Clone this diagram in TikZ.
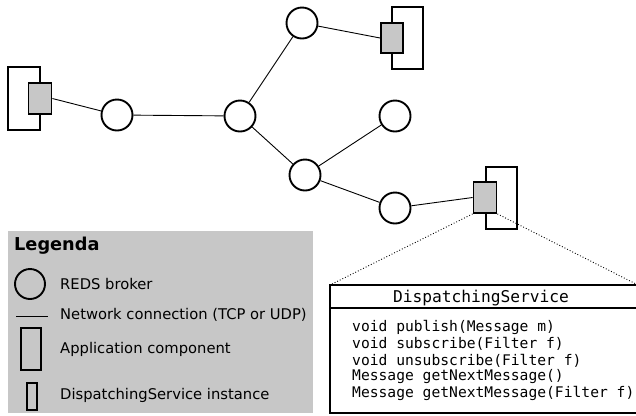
\documentclass[tikz,border=0pt]{standalone}
\usepackage{fontspec}
\setmainfont{DejaVu Sans}
\setmonofont{DejaVu Sans Mono}
\begin{document}
\begin{tikzpicture}[x=1bp,y=-1bp,
  broker/.style={circle,draw,line width=1.9bp,minimum size=31bp,inner sep=0pt,fill=white},
  conn/.style={line width=0.9bp},
  appcomp/.style={draw,line width=1.8bp,fill=white},
  dsinst/.style={draw,line width=1.8bp,fill=black!22},
  legtext/.style={anchor=west,inner sep=0pt,font=\fontsize{14.8}{16}\selectfont},
  codeline/.style={anchor=west,inner sep=0pt,font=\ttfamily\fontsize{14.7}{16}\selectfont}]
\useasboundingbox (0,0) rectangle (636,415);
% application components
\draw[appcomp] (8,67) rectangle (40,130);
\node[dsinst,minimum width=23bp,minimum height=31bp,inner sep=0pt] (dsL) at (40,98.5) {};
\draw[appcomp] (392,7) rectangle (423,69);
\node[dsinst,minimum width=22bp,minimum height=30bp,inner sep=0pt] (dsT) at (392,38) {};
\draw[appcomp] (486,167) rectangle (517,229);
\node[dsinst,minimum width=23bp,minimum height=31bp,inner sep=0pt] (dsB) at (485,197.5) {};
% brokers
\node[broker] (c1) at (117,115) {};
\node[broker] (c2) at (240,116) {};
\node[broker] (c3) at (302,23) {};
\node[broker] (c4) at (395,116) {};
\node[broker] (c5) at (305,175) {};
\node[broker] (c6) at (395,208) {};
% connections
\draw[conn] (dsL.east) -- (c1);
\draw[conn] (c1) -- (c2);
\draw[conn] (c2) -- (c3);
\draw[conn] (c2) -- (c5);
\draw[conn] (c5) -- (c4);
\draw[conn] (c5) -- (c6);
\draw[conn] (c3) -- (dsT.west);
\draw[conn] (c6) -- (dsB.west);
% UML box
\coordinate (umlTL) at (330,285);
\coordinate (umlTR) at (638,285);
\draw[line width=1.8bp] (330,285) rectangle (638,413);
\draw[line width=1.6bp] (330,308) -- (638,308);
\draw[dotted,line width=0.9bp] (dsB.south west) -- (umlTL);
\draw[dotted,line width=0.9bp] (dsB.south east) -- (umlTR);
\node[inner sep=0pt,font=\ttfamily\fontsize{16.3}{18}\selectfont] (umltitle) at (481,298) {DispatchingService};
\node[codeline] (m1) at (352,327.5) {void publish(Message m)};
\node[codeline] (m2) at (352,344) {void subscribe(Filter f)};
\node[codeline] (m3) at (352,360.5) {void unsubscribe(Filter f)};
\node[codeline] (m4) at (352,377) {Message getNextMessage()};
\node[codeline] (m5) at (352,393.5) {Message getNextMessage(Filter f)};
% legend
\fill[black!22] (8,231) rectangle (313,413);
\node[anchor=west,inner sep=0pt,font=\bfseries\fontsize{17.8}{20}\selectfont] (legtitle) at (14,246) {Legenda};
\node[broker,fill=none,minimum size=30bp] (lc) at (30,284) {};
\node[legtext] (lt1) at (60,284) {REDS broker};
\coordinate (ll1) at (16,316);
\coordinate (ll2) at (48,316);
\draw[conn] (ll1) -- (ll2);
\node[legtext] (lt2) at (60,315) {Network connection (TCP or UDP)};
\draw[line width=1.8bp] (21,328) rectangle (41,370);
\node[legtext] (lt3) at (60,349) {Application component};
\draw[line width=1.8bp] (27,383) rectangle (37,410);
\node[legtext] (lt4) at (60,395) {DispatchingService instance};
\end{tikzpicture}
\end{document}
